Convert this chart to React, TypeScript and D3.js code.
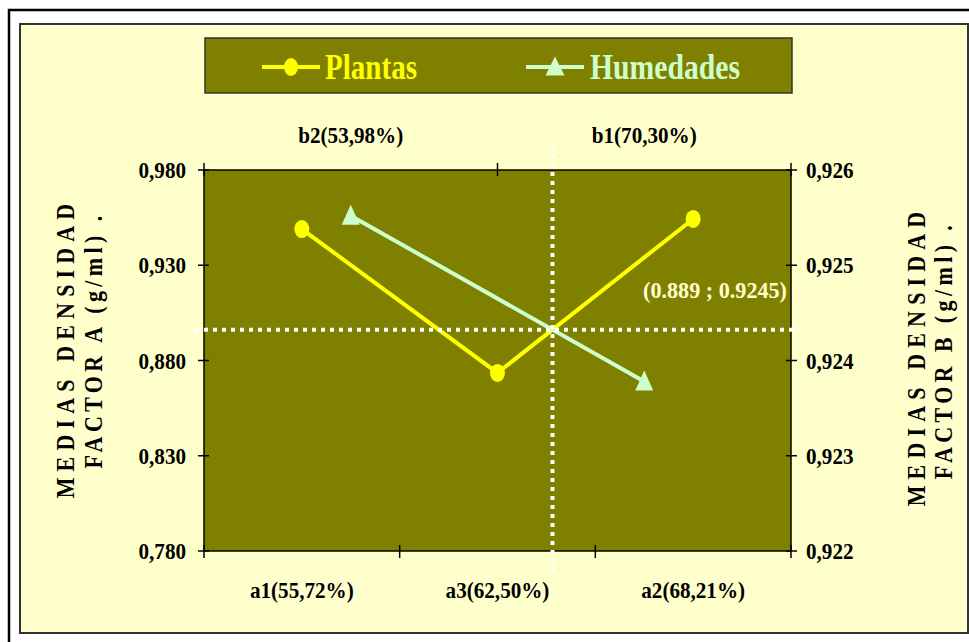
import React from "react";
import * as d3 from "d3";

const categoriesA = ["a1(55,72%)", "a3(62,50%)", "a2(68,21%)"];
const categoriesB = ["b2(53,98%)", "b1(70,30%)"];
const plantas = [0.949, 0.8735, 0.9543];
const humedades = [0.92552, 0.92378];
const ticksA = [0.78, 0.83, 0.88, 0.93, 0.98];
const ticksB = [0.922, 0.923, 0.924, 0.925, 0.926];
const seriesNames = ["Plantas", "Humedades"];
const intersectionLabel = "(0.889 ; 0.9245)";
const titleLeft = ["MEDIAS DENSIDAD", "FACTOR A (g/ml) ."];
const titleRight = ["MEDIAS DENSIDAD", "FACTOR B (g/ml) ."];

const W = 969;
const H = 642;
const L = 204, R = 791, T = 170, B = 551;
const FONT = "'Liberation Serif', 'Times New Roman', serif";
const OLIVE = "#808000";
const CREAM = "#FFFFCC";
const YELLOW = "#FFFF00";
const MINT = "#CCFFCC";
const SX = 0.88;

const fmt = (v: number) => d3.format(".3f")(v).replace(".", ",");

function intersect(p1: number[], p2: number[], p3: number[], p4: number[]) {
  const d = (p1[0] - p2[0]) * (p3[1] - p4[1]) - (p1[1] - p2[1]) * (p3[0] - p4[0]);
  if (Math.abs(d) < 1e-9) return null;
  const t = ((p1[0] - p3[0]) * (p3[1] - p4[1]) - (p1[1] - p3[1]) * (p3[0] - p4[0])) / d;
  const u = -((p1[0] - p2[0]) * (p1[1] - p3[1]) - (p1[1] - p2[1]) * (p1[0] - p3[0])) / d;
  if (t < 0 || t > 1 || u < 0 || u > 1) return null;
  return [p1[0] + t * (p2[0] - p1[0]), p1[1] + t * (p2[1] - p1[1])];
}

function SText(props: { x: number; y: number; anchor?: string; children: React.ReactNode; rot?: boolean; ls?: number; fill?: string; size?: number }) {
  const { x, y, anchor = "start", children, rot, ls, fill = "#000", size = 24 } = props;
  const tr = `translate(${x},${y})${rot ? " rotate(-90)" : ""} scale(${SX},1)`;
  return (
    <text transform={tr} textAnchor={anchor} letterSpacing={ls} fill={fill} fontSize={size}
      fontFamily={FONT} fontWeight="bold">{children}</text>
  );
}

export default function App() {
  const xA = d3.scaleBand<string>().domain(categoriesA).range([L, R]);
  const xB = d3.scaleBand<string>().domain(categoriesB).range([L, R]);
  const yA = d3.scaleLinear().domain([0.78, 0.98]).range([B, T]);
  const yB = d3.scaleLinear().domain([0.922, 0.926]).range([B, T]);

  const ptsA = categoriesA.map((c, i) => [xA(c)! + xA.bandwidth() / 2, yA(plantas[i])]);
  const ptsB = categoriesB.map((c, i) => [xB(c)! + xB.bandwidth() / 2, yB(humedades[i])]);
  const line = d3.line();

  let cross: number[] | null = null;
  for (let i = 0; i < ptsA.length - 1 && !cross; i++) {
    for (let j = 0; j < ptsB.length - 1 && !cross; j++) {
      cross = intersect(ptsA[i], ptsA[i + 1], ptsB[j], ptsB[j + 1]);
    }
  }

  const tri = (cx: number, cy: number, w: number, h: number) =>
    `M${cx},${cy - h * 0.55} L${cx + w / 2},${cy + h * 0.45} L${cx - w / 2},${cy + h * 0.45} Z`;

  const boundsA = [L, ...categoriesA.map((c) => xA(c)! + xA.bandwidth())];
  const boundsB = [L, ...categoriesB.map((c) => xB(c)! + xB.bandwidth())];

  return (
    <svg width={W} height={H} style={{ position: "absolute", left: 0, top: 0, background: "#fff" }}>
      <rect x={9} y={10} width={1000} height={700} fill="none" stroke="#000" strokeWidth={2.5} />
      <rect x={20} y={24} width={948} height={609} fill={CREAM} stroke="#333" strokeWidth={2} />

      {/* legend */}
      <rect x={205} y={38} width={587} height={55} fill={OLIVE} stroke="#333" strokeWidth={1.5} />
      <line x1={262} x2={320} y1={67} y2={67} stroke={YELLOW} strokeWidth={4} />
      <ellipse cx={291} cy={67} rx={7} ry={9} fill={YELLOW} />
      <text x={325} y={79} fill={YELLOW} fontFamily={FONT} fontWeight="bold" fontSize={36}
        textLength={92} lengthAdjust="spacingAndGlyphs">{seriesNames[0]}</text>
      <line x1={526} x2={584} y1={67} y2={67} stroke={MINT} strokeWidth={4} />
      <path d={tri(555, 67, 19, 19)} fill={MINT} />
      <text x={590} y={79} fill={MINT} fontFamily={FONT} fontWeight="bold" fontSize={36}
        textLength={150} lengthAdjust="spacingAndGlyphs">{seriesNames[1]}</text>

      {/* plot area */}
      <rect x={L} y={T} width={R - L} height={B - T} fill={OLIVE} />
      <g stroke="#000" strokeWidth={1.5}>
        <line x1={L} x2={L} y1={T} y2={B} />
        <line x1={R} x2={R} y1={T} y2={B} />
        <line x1={L} x2={R} y1={B} y2={B} />
        <line x1={L} x2={R} y1={T} y2={T} />
        {ticksA.map((t) => (
          <line key={"la" + t} x1={L - 6} x2={L + 5} y1={yA(t)} y2={yA(t)} />
        ))}
        {ticksB.map((t) => (
          <line key={"lb" + t} x1={R - 5} x2={R + 6} y1={yB(t)} y2={yB(t)} />
        ))}
        {boundsA.map((x) => (
          <line key={"ba" + x} x1={x} x2={x} y1={B - 6} y2={B + 7} />
        ))}
        {boundsB.map((x) => (
          <line key={"bb" + x} x1={x} x2={x} y1={T - 7} y2={T + 6} />
        ))}
      </g>

      {/* tick labels */}
      {ticksA.map((t) => (
        <SText key={"ta" + t} x={186} y={yA(t) + 8} anchor="end">{fmt(t)}</SText>
      ))}
      {ticksB.map((t) => (
        <SText key={"tb" + t} x={806} y={yB(t) + 8}>{fmt(t)}</SText>
      ))}
      {categoriesA.map((c) => (
        <SText key={c} x={xA(c)! + xA.bandwidth() / 2} y={598} anchor="middle">{c}</SText>
      ))}
      {categoriesB.map((c) => (
        <SText key={c} x={xB(c)! + xB.bandwidth() / 2} y={143} anchor="middle">{c}</SText>
      ))}

      {/* axis titles */}
      <SText x={74} y={348} rot anchor="middle" size={25} ls={7}>{titleLeft[0]}</SText>
      <SText x={102} y={340} rot anchor="middle" size={25} ls={5}>{titleLeft[1]}</SText>
      <SText x={925} y={356} rot anchor="middle" size={25} ls={7}>{titleRight[0]}</SText>
      <SText x={952} y={350} rot anchor="middle" size={25} ls={5}>{titleRight[1]}</SText>

      {/* series */}
      <path d={line(ptsA as [number, number][])!} fill="none" stroke={YELLOW} strokeWidth={4} />
      <path d={line(ptsB as [number, number][])!} fill="none" stroke={MINT} strokeWidth={4} />

      {/* dotted crosshair */}
      {cross && (
        <g stroke="#fff" strokeWidth={4} strokeDasharray="4 5">
          <line x1={195} x2={801} y1={cross[1]} y2={cross[1]} />
          <line x1={cross[0]} x2={cross[0]} y1={145} y2={577} />
        </g>
      )}

      {ptsA.map((p, i) => (
        <ellipse key={"pa" + i} cx={p[0]} cy={p[1]} rx={7.5} ry={9} fill={YELLOW} />
      ))}
      {ptsB.map((p, i) => (
        <path key={"pb" + i} d={tri(p[0], p[1], 18, 20)} fill={MINT} />
      ))}

      <text x={787} y={298} textAnchor="end" fill={CREAM} fontFamily={FONT} fontWeight="bold" fontSize={23}
        textLength={144} lengthAdjust="spacingAndGlyphs">
        {intersectionLabel}
      </text>
    </svg>
  );
}
